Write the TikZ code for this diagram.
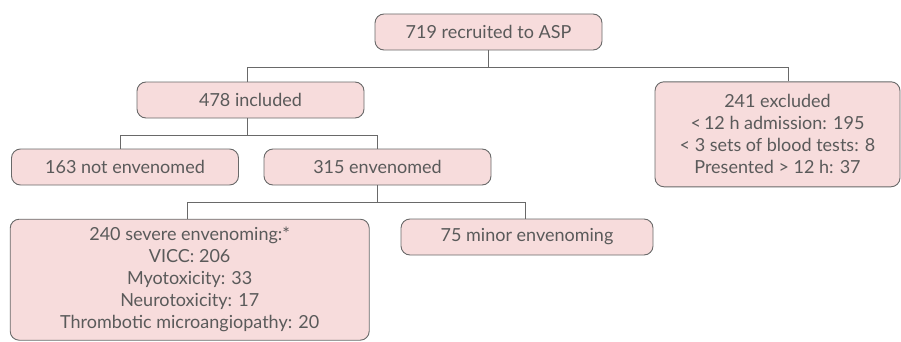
\documentclass[tikz,border=0pt]{standalone}
\usepackage{fontspec}
\setmainfont{Lato}
\usetikzlibrary{positioning, calc}

\begin{document}
\begin{tikzpicture}[x=1pt,y=1pt,
  flowbox/.style={draw=lineColor, line width=0.9pt, fill=boxColor, rounded corners=9pt,
    text=textColor, align=center, inner sep=0pt, minimum height=36pt,
    font=\fontsize{18}{22}\selectfont},
  link/.style={draw=lineColor, line width=0.9pt}]
\definecolor{boxColor}{RGB}{247,220,220}
\definecolor{lineColor}{RGB}{105,105,105}
\definecolor{textColor}{RGB}{90,90,90}
\path[use as bounding box] (0,0) rectangle (901,341);

\node[flowbox, minimum width=227pt] (recruit) at (488.5,309.0) {719 recruited to ASP};

\node[flowbox, minimum width=227pt] (incl) at (250.5,241.0) {478 included};

\node[flowbox, minimum width=245pt, minimum height=105pt] (excl) at (777.5,206.7) {241 excluded\\
  {<}\,12 h admission: 195\\
  {<} 3 sets of blood tests: 8\\
  Presented {>} 12 h: 37};

\node[flowbox, minimum width=227pt] (notenv) at (125.0,174.0) {163 not envenomed};

\node[flowbox, minimum width=227pt] (env) at (377.5,174.0) {315 envenomed};

\node[flowbox, minimum width=359pt, minimum height=121pt] (severe) at (189.7,61.3) {240 severe envenoming:*\\
  VICC: 206\\
  Myotoxicity: 33\\
  Neurotoxicity: 17\\
  Thrombotic microangiopathy: 20};

\node[flowbox, minimum width=252pt] (minor) at (527.0,104.0) {75 minor envenoming};

% tree lines
\draw[link] (recruit.south) -- ++(0,-17) coordinate (j1);
\draw[link] ([xshift=-3.5pt]incl.north) |- (j1) -| ([xshift=10.8pt]excl.north);

\draw[link] ([xshift=-3.5pt]incl.south) -- ++(0,-17) coordinate (j2);
\draw[link] ([xshift=-4.3pt]notenv.north) |- (j2) -| (env.north);

\draw[link] (env.south) -- ++(0,-16.7) coordinate (j3);
\draw[link] ([xshift=-2pt]severe.north) |- (j3) -| ([xshift=-1.3pt]minor.north);
\end{tikzpicture}
\end{document}
